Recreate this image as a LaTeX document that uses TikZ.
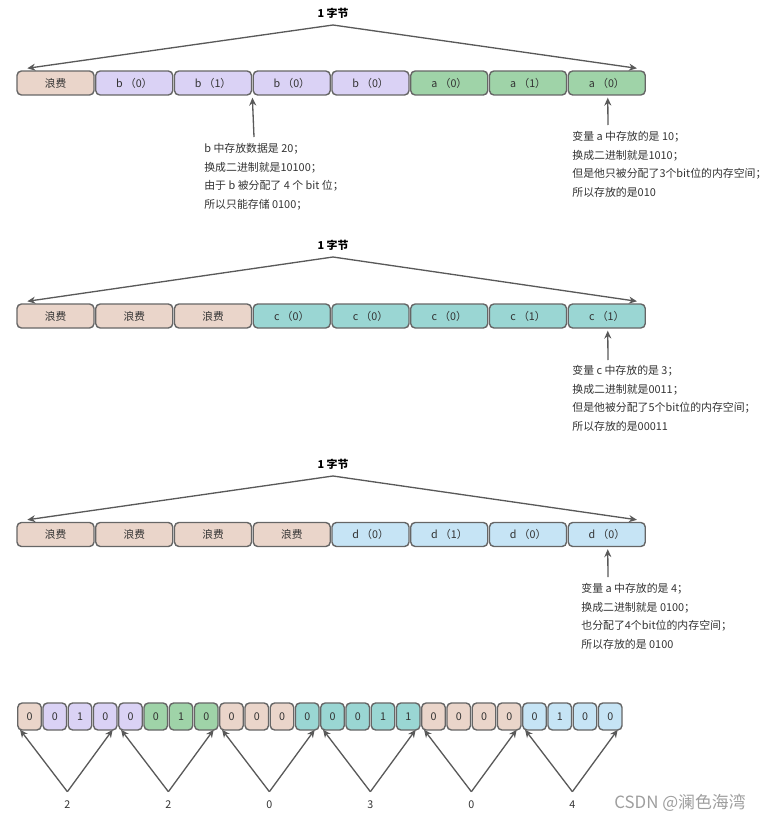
\documentclass[tikz,border=0pt]{standalone}
\usepackage{fontspec}
\setmainfont{Noto Sans CJK SC}
\usetikzlibrary{arrows.meta,calc}

\definecolor{wasteFill}{HTML}{EAD5CA}
\definecolor{bFill}{HTML}{DAD2F5}
\definecolor{aFill}{HTML}{9FD3A8}
\definecolor{cFill}{HTML}{9AD6D3}
\definecolor{dFill}{HTML}{C6E4F5}
\definecolor{cellEdge}{HTML}{666666}
\definecolor{lineGray}{HTML}{595959}
\definecolor{textGray}{HTML}{333333}

\begin{document}
\begin{tikzpicture}[x=0.02cm,y=-0.02cm]

\tikzset{
  cell/.style={
    draw=cellEdge,
    line width=0.8pt,
    rounded corners=2.5pt,
    minimum width=1.54cm,
    minimum height=0.48cm,
    inner sep=0pt,
    text=textGray,
    font=\fontsize{6.1}{7}\selectfont
  },
  bitcell/.style={
    cell,
    minimum width=0.47cm,
    minimum height=0.54cm
  },
  waste/.style={fill=wasteFill},
  bvar/.style={fill=bFill},
  avar/.style={fill=aFill},
  cvar/.style={fill=cFill},
  dvar/.style={fill=dFill},
  byteline/.style={
    draw=lineGray,
    line width=0.75pt,
    -{Stealth[length=4.5pt,width=4pt]}
  },
  bytelabel/.style={
    text=black,
    font=\bfseries\fontsize{6.2}{7}\selectfont
  },
  note/.style={
    anchor=north west,
    inner sep=0pt,
    align=left,
    text=textGray,
    font=\fontsize{6.2}{10.6}\selectfont
  },
  hexlabel/.style={
    text=textGray,
    font=\fontsize{6.1}{7}\selectfont
  }
}

\useasboundingbox (0,0) rectangle (764,821);

%%%%%%%%%%%%%%%%%%%%%%%%%%%%%%%%%%%%%%%%%%%%%%%%%%%%%%%%%%%%
%% Byte 1: b and a
%%%%%%%%%%%%%%%%%%%%%%%%%%%%%%%%%%%%%%%%%%%%%%%%%%%%%%%%%%%%
\foreach \sty/\txt [count=\i] in {waste/浪费, bvar/b （0）, bvar/b （1）, bvar/b （0）,
    bvar/b （0）, avar/a （0）, avar/a （1）, avar/a （0）}{
  \node[cell,\sty] (A\i) at ({55.5+78.75*(\i-1)},83) {\txt};
}

% Byte span
\node[bytelabel] (capA) at (333,13) {1 字节};
\coordinate (topA) at (333,25);
\coordinate (leftA) at ($(A1.north west)+(11,-2)$);
\coordinate (rightA) at ($(A8.north east)+(-9,-2)$);
\draw[byteline] (topA) -- (leftA);
\draw[byteline] (topA) -- (rightA);

% Notes
\node[note] (bNote) at (204,143)
  {b 中存放数据是 20；\\换成二进制就是10100；\\由于 b 被分配了 4 个 bit 位；\\所以只能存储 0100；};
\coordinate (bTail) at (254,137);
\coordinate (bTip) at ($(A3.south east)!0.5!(A4.south west)+(0,2)$);
\draw[byteline] (bTail) -- (bTip);

\node[note] (aNote) at (572,131)
  {变量 a 中存放的是 10；\\换成二进制就是1010；\\但是他只被分配了3个bit位的内存空间；\\所以存放的是010};
\coordinate (aTail) at (608,125);
\coordinate (aTip) at ($(A8.south)+(1,2)$);
\draw[byteline] (aTail) -- (aTip);

%%%%%%%%%%%%%%%%%%%%%%%%%%%%%%%%%%%%%%%%%%%%%%%%%%%%%%%%%%%%
%% Byte 2: c
%%%%%%%%%%%%%%%%%%%%%%%%%%%%%%%%%%%%%%%%%%%%%%%%%%%%%%%%%%%%
\foreach \sty/\txt [count=\i] in {waste/浪费, waste/浪费, waste/浪费, cvar/c （0）,
    cvar/c （0）, cvar/c （0）, cvar/c （1）, cvar/c （1）}{
  \node[cell,\sty] (B\i) at ({55.5+78.75*(\i-1)},316) {\txt};
}

% Byte span
\node[bytelabel] (capB) at (333,245) {1 字节};
\coordinate (topB) at (333,257);
\coordinate (leftB) at ($(B1.north west)+(11,-2)$);
\coordinate (rightB) at ($(B8.north east)+(-9,-2)$);
\draw[byteline] (topB) -- (leftB);
\draw[byteline] (topB) -- (rightB);

% Note
\node[note] (cNote) at (572,365)
  {变量 c 中存放的是 3；\\换成二进制就是0011；\\但是他被分配了5个bit位的内存空间；\\所以存放的是00011};
\coordinate (cTail) at (608,360);
\coordinate (cTip) at ($(B8.south)+(1,2)$);
\draw[byteline] (cTail) -- (cTip);

%%%%%%%%%%%%%%%%%%%%%%%%%%%%%%%%%%%%%%%%%%%%%%%%%%%%%%%%%%%%
%% Byte 3: d
%%%%%%%%%%%%%%%%%%%%%%%%%%%%%%%%%%%%%%%%%%%%%%%%%%%%%%%%%%%%
\foreach \sty/\txt [count=\i] in {waste/浪费, waste/浪费, waste/浪费, waste/浪费,
    dvar/d （0）, dvar/d （1）, dvar/d （0）, dvar/d （0）}{
  \node[cell,\sty] (C\i) at ({55.5+78.75*(\i-1)},534.5) {\txt};
}

% Byte span
\node[bytelabel] (capC) at (333,464) {1 字节};
\coordinate (topC) at (333,476);
\coordinate (leftC) at ($(C1.north west)+(11,-2)$);
\coordinate (rightC) at ($(C8.north east)+(-9,-2)$);
\draw[byteline] (topC) -- (leftC);
\draw[byteline] (topC) -- (rightC);

% Note
\node[note] (dNote) at (581,583)
  {变量 a 中存放的是 4；\\换成二进制就是 0100；\\也分配了4个bit位的内存空间；\\所以存放的是 0100};
\coordinate (dTail) at (608,577);
\coordinate (dTip) at ($(C8.south)+(1,2)$);
\draw[byteline] (dTail) -- (dTip);

%%%%%%%%%%%%%%%%%%%%%%%%%%%%%%%%%%%%%%%%%%%%%%%%%%%%%%%%%%%%
%% All bits, read in groups of four
%%%%%%%%%%%%%%%%%%%%%%%%%%%%%%%%%%%%%%%%%%%%%%%%%%%%%%%%%%%%
\foreach \sty/\val [count=\i] in {waste/0, bvar/0, bvar/1, bvar/0, bvar/0, avar/0,
    avar/1, avar/0, waste/0, waste/0, waste/0, cvar/0, cvar/0, cvar/0, cvar/1,
    cvar/1, waste/0, waste/0, waste/0, waste/0, dvar/0, dvar/1, dvar/0, dvar/0}{
  \node[bitcell,\sty] (D\i) at ({29.5+25.25*(\i-1)},716.5) {\val};
}

\foreach \n/\hex in {1/2, 2/2, 3/0, 4/3, 5/0, 6/4}{
  \pgfmathtruncatemacro\first{4*\n-3}
  \pgfmathtruncatemacro\last{4*\n}
  \coordinate (V\n) at ($(D\first.south west)!0.5!(D\last.south east)+(0,61)$);
  \coordinate (VL\n) at ($(D\first.south west)+(3,-1)$);
  \coordinate (VR\n) at ($(D\last.south east)+(-5,-1)$);
  \node[hexlabel] (H\n) at ($(V\n)+(0,13)$) {\hex};
  \draw[byteline] (V\n) -- (VL\n);
  \draw[byteline] (V\n) -- (VR\n);
}

% Watermark
\node[text=black!38, font=\fontsize{9.6}{11}\selectfont] (mark) at (680,803)
  {CSDN @澜色海湾};

\end{tikzpicture}
\end{document}
